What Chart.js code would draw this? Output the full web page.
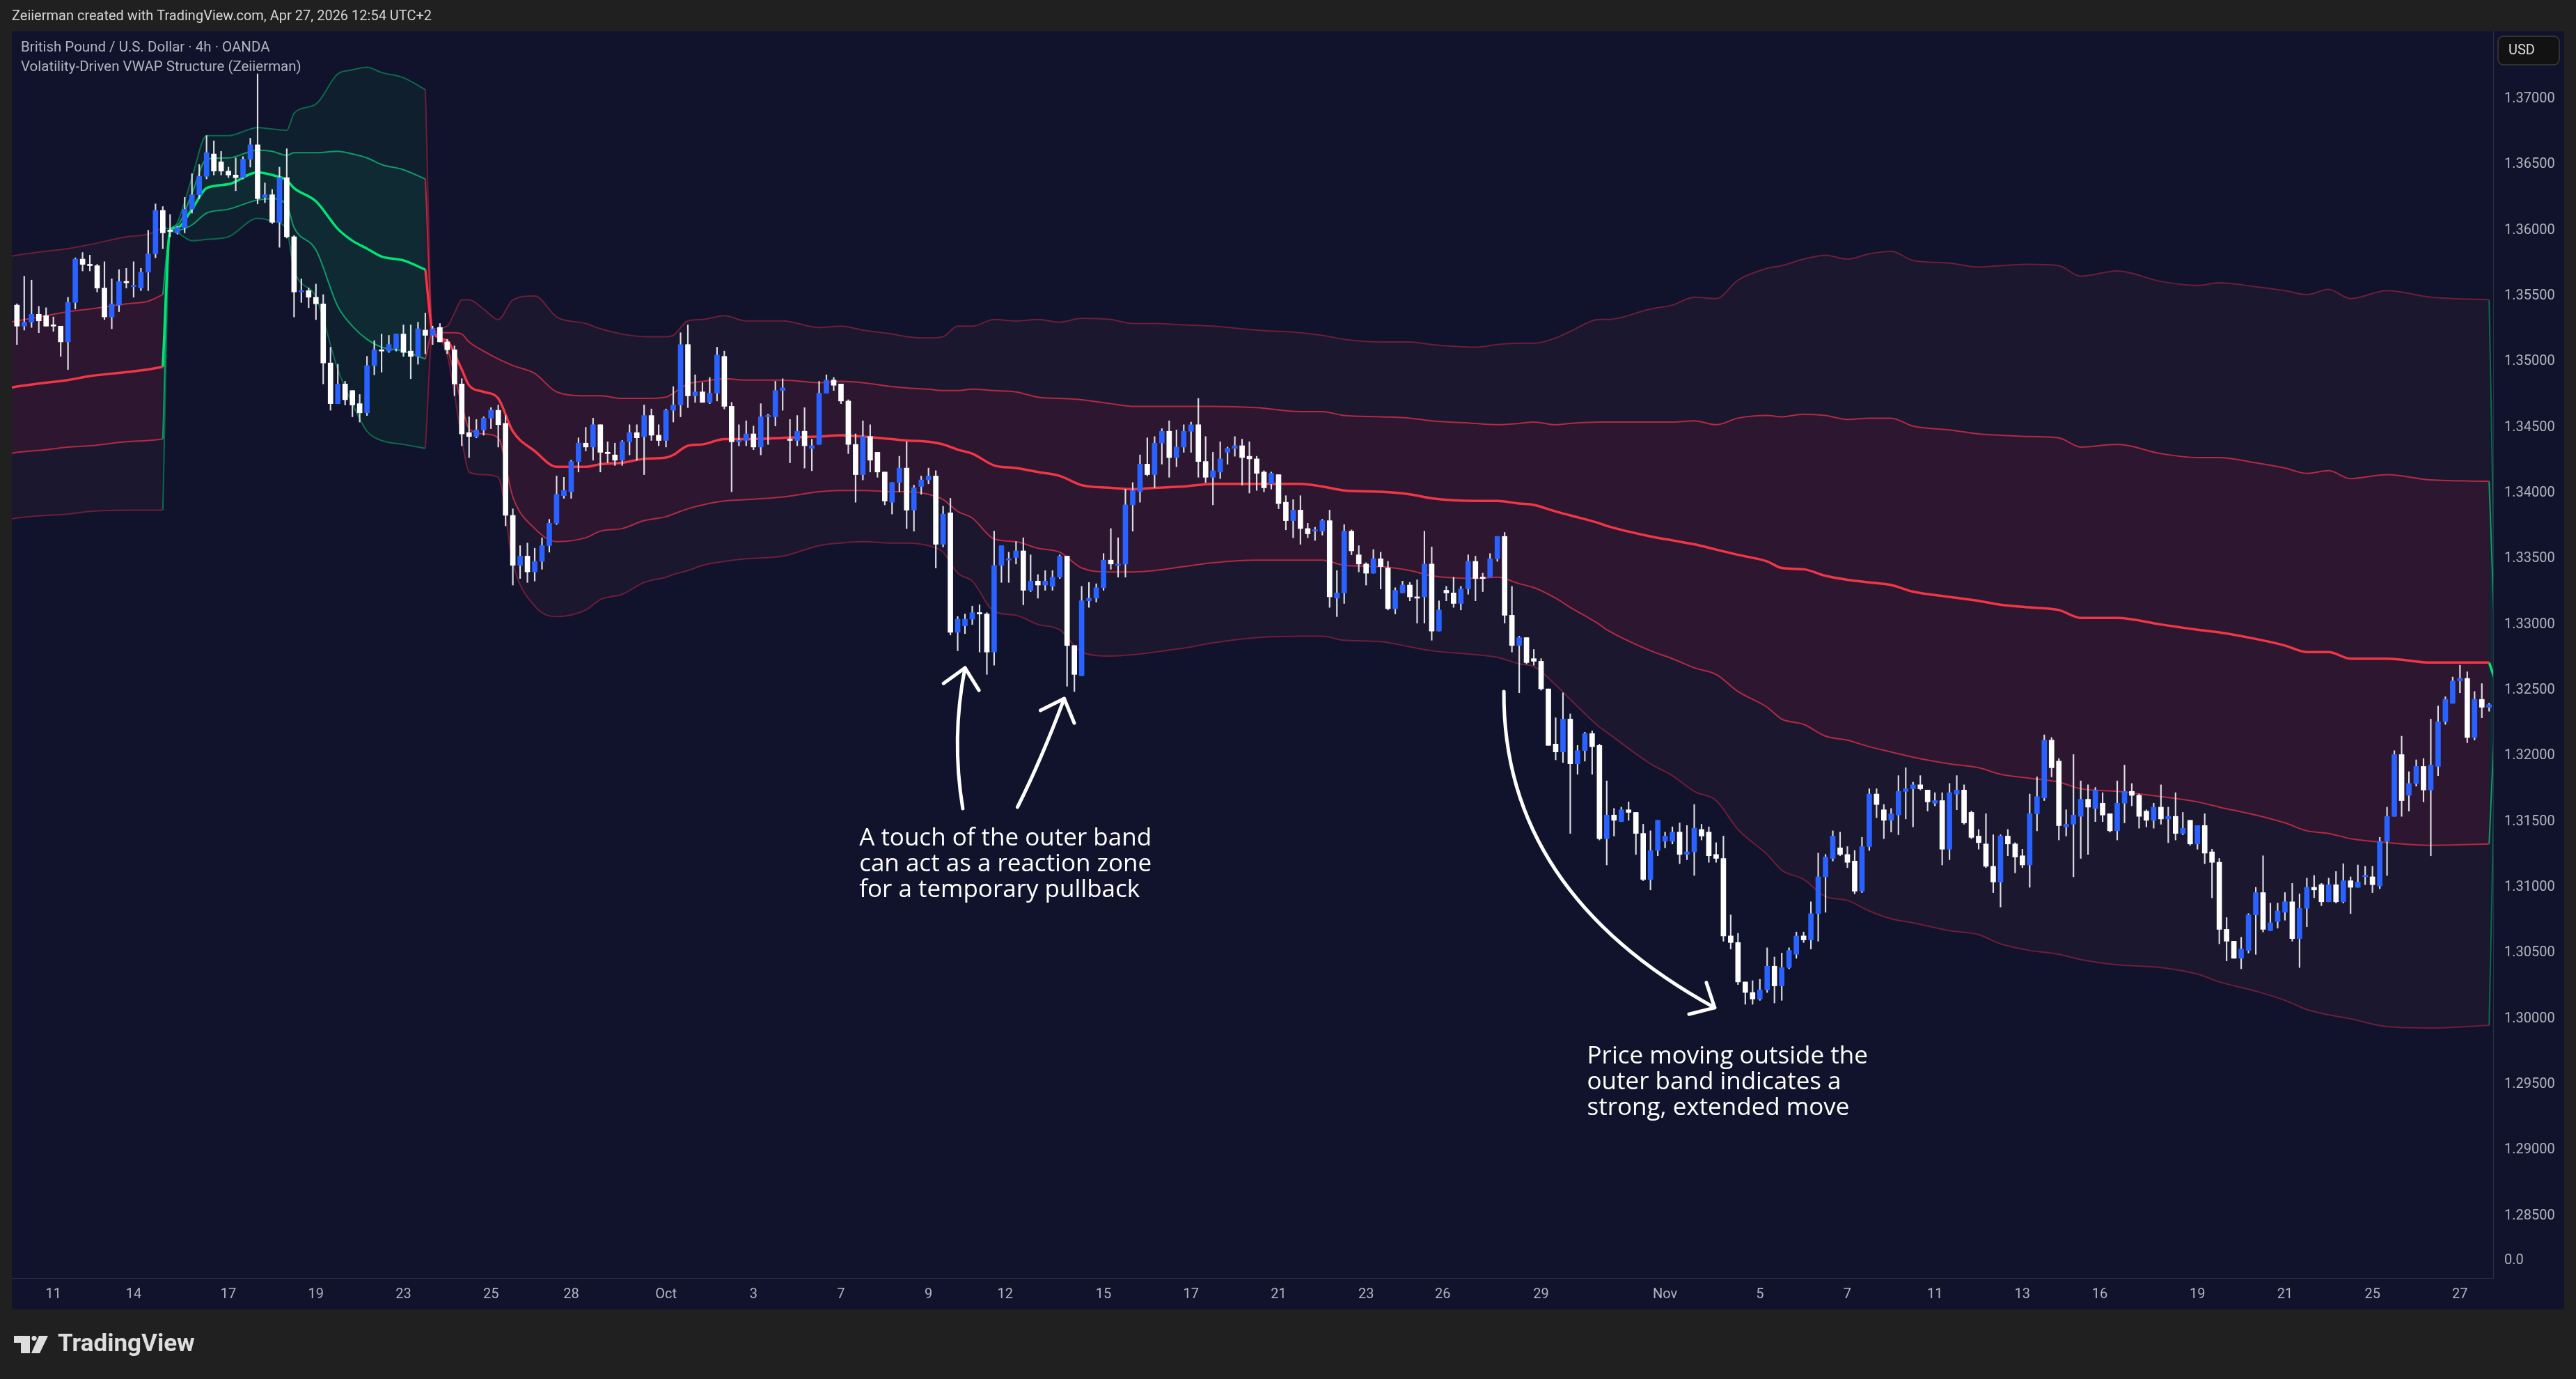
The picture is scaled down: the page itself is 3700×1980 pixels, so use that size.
<!DOCTYPE html>
<html>
<head>
<meta charset="utf-8">
<script src="https://cdn.jsdelivr.net/npm/chart.js@4.4.1/dist/chart.umd.min.js"></script>
<style>
  html, body { margin: 0; padding: 0; background: #202020; }
  canvas { display: block; }
</style>
</head>
<body>
<canvas id="chart" width="3700" height="1980"></canvas>
<script>
// GBPUSD 4h candles, prices in 1/10000 (13543 -> 1.3543)
const open = [
  13543,13527,13530,13536,13535,13528,13527,13515,13545,13578,
  13574,13573,13556,13534,13543,13561,13557,13556,13568,13582,
  13615,13600,13598,13602,13616,13627,13641,13658,13652,13645,
  13642,13640,13654,13665,13625,13627,13606,13640,13595,13553,
  13554,13549,13544,13499,13468,13483,13478,13468,13461,13497,
  13509,13508,13510,13521,13508,13504,13524,13520,13526,13515,
  13509,13483,13446,13443,13448,13457,13463,13453,13383,13345,
  13352,13340,13348,13360,13377,13398,13401,13424,13438,13435,
  13452,13431,13429,13425,13439,13446,13443,13459,13444,13440,
  13463,13467,13513,13474,13477,13469,13476,13504,13466,13439,
  13440,13445,13435,13458,13458,13478,13441,13440,13447,13434,
  13437,13476,13486,13483,13470,13437,13414,13443,13431,13416,
  13393,13408,13419,13387,13405,13410,13413,13361,13385,13294,
  13299,13304,13309,13308,13279,13345,13349,13351,13356,13326,
  13333,13330,13329,13336,13352,13284,13261,13318,13320,13328,
  13349,13345,13346,13391,13401,13422,13414,13438,13447,13427,
  13435,13447,13452,13424,13412,13416,13431,13434,13436,13428,
  13426,13416,13407,13414,13393,13379,13387,13373,13371,13371,
  13379,13320,13324,13371,13353,13346,13339,13350,13343,13312,
  13324,13330,13321,13321,13346,13295,13326,13324,13316,13327,
  13348,13336,13336,13350,13367,13307,13284,13290,13274,13272,
  13251,13209,13203,13228,13194,13204,13217,13208,13137,13155,
  13150,13159,13157,13141,13106,13128,13135,13135,13142,13125,
  13127,13144,13142,13125,13122,13063,13058,13028,13020,13015,
  13022,13040,13025,13039,13049,13063,13060,13080,13108,13122,
  13130,13125,13120,13097,13131,13171,13159,13151,13155,13173,
  13175,13178,13174,13164,13166,13129,13171,13174,13157,13139,
  13133,13116,13104,13139,13133,13124,13117,13156,13168,13212,
  13196,13146,13148,13154,13167,13160,13164,13156,13143,13164,
  13173,13170,13158,13151,13161,13152,13154,13141,13151,13133,
  13147,13127,13119,13068,13059,13046,13052,13079,13096,13067,
  13074,13081,13089,13061,13084,13100,13102,13089,13102,13089,
  13105,13100,13108,13108,13101,13135,13154,13201,13170,13179,
  13192,13174,13192,13226,13240,13257,13259,13214,13243,13237
];
const high = [
  13544,13565,13562,13542,13541,13534,13527,13549,13579,13583,
  13581,13574,13576,13563,13570,13571,13576,13571,13600,13620,
  13618,13612,13603,13625,13643,13650,13672,13668,13660,13648,
  13655,13656,13670,13719,13636,13631,13648,13662,13596,13563,
  13556,13559,13551,13511,13498,13485,13478,13475,13504,13516,
  13521,13520,13521,13528,13528,13530,13537,13527,13529,13517,
  13512,13487,13458,13456,13458,13465,13467,13459,13388,13360,
  13362,13358,13366,13380,13413,13412,13425,13442,13450,13457,
  13452,13439,13438,13440,13452,13452,13467,13464,13452,13464,
  13481,13522,13528,13490,13484,13488,13511,13508,13469,13452,
  13455,13451,13468,13460,13485,13487,13456,13459,13465,13441,
  13485,13490,13488,13483,13471,13445,13455,13452,13431,13416,
  13408,13428,13439,13406,13413,13419,13417,13390,13396,13306,
  13308,13314,13315,13309,13371,13360,13355,13363,13366,13353,
  13338,13341,13341,13353,13352,13284,13329,13332,13331,13354,
  13373,13366,13403,13408,13429,13442,13443,13449,13455,13448,
  13452,13454,13472,13443,13431,13439,13435,13443,13441,13439,
  13428,13417,13416,13414,13398,13395,13398,13377,13374,13380,
  13387,13341,13376,13372,13360,13347,13357,13355,13348,13328,
  13333,13332,13334,13371,13359,13318,13329,13336,13329,13353,
  13352,13339,13354,13367,13370,13329,13291,13290,13281,13274,
  13251,13229,13248,13232,13208,13218,13219,13209,13181,13160,
  13161,13165,13157,13148,13143,13151,13142,13146,13149,13147,
  13163,13148,13146,13134,13139,13079,13065,13028,13029,13030,
  13054,13047,13050,13054,13066,13066,13089,13126,13125,13143,
  13142,13131,13128,13138,13175,13175,13163,13160,13185,13191,
  13180,13185,13174,13172,13172,13179,13185,13178,13158,13144,
  13156,13140,13140,13144,13134,13129,13171,13184,13216,13214,
  13198,13159,13201,13181,13178,13176,13172,13156,13181,13193,
  13179,13171,13159,13164,13178,13161,13172,13157,13151,13147,
  13156,13129,13122,13077,13059,13062,13080,13100,13124,13088,
  13088,13096,13103,13095,13107,13109,13103,13107,13112,13118,
  13108,13117,13116,13116,13138,13161,13204,13215,13188,13197,
  13198,13228,13238,13245,13260,13269,13264,13249,13255,13240
];
const low = [
  13513,13524,13526,13522,13527,13523,13504,13494,13540,13569,
  13569,13553,13532,13525,13538,13556,13549,13554,13554,13579,
  13586,13595,13597,13598,13613,13624,13639,13642,13642,13640,
  13630,13639,13648,13620,13621,13605,13587,13594,13534,13545,
  13541,13532,13483,13463,13468,13467,13458,13454,13459,13490,
  13492,13507,13508,13504,13487,13498,13506,13513,13515,13506,
  13474,13436,13427,13442,13444,13449,13435,13375,13330,13335,
  13332,13333,13342,13355,13376,13396,13396,13416,13432,13425,
  13416,13423,13421,13421,13429,13425,13414,13440,13436,13435,
  13454,13458,13465,13469,13469,13468,13470,13464,13401,13436,
  13436,13433,13429,13437,13451,13463,13423,13436,13419,13417,
  13437,13476,13478,13468,13430,13393,13410,13416,13412,13391,
  13384,13401,13373,13371,13399,13407,13343,13359,13292,13280,
  13293,13300,13279,13262,13269,13332,13332,13346,13315,13325,
  13320,13326,13326,13335,13253,13249,13261,13313,13317,13326,
  13342,13336,13336,13371,13393,13413,13404,13422,13412,13420,
  13431,13431,13412,13408,13391,13411,13422,13428,13406,13400,
  13402,13401,13403,13388,13372,13366,13361,13366,13364,13368,
  13313,13306,13316,13353,13340,13330,13339,13327,13311,13308,
  13324,13318,13301,13301,13288,13295,13318,13313,13311,13323,
  13318,13325,13336,13348,13301,13279,13248,13270,13269,13250,
  13208,13197,13195,13141,13186,13196,13186,13136,13117,13139,
  13150,13151,13125,13105,13098,13124,13130,13133,13118,13121,
  13109,13136,13119,13119,13059,13053,13026,13011,13011,13014,
  13020,13012,13014,13038,13046,13058,13053,13059,13081,13120,
  13124,13115,13095,13096,13128,13153,13137,13142,13140,13152,
  13146,13174,13158,13162,13117,13121,13159,13148,13137,13129,
  13115,13096,13085,13124,13111,13115,13100,13143,13166,13184,
  13136,13139,13108,13122,13125,13150,13150,13142,13136,13149,
  13162,13145,13146,13145,13148,13134,13136,13140,13132,13129,
  13118,13092,13057,13044,13046,13038,13050,13049,13066,13067,
  13069,13075,13059,13039,13070,13092,13086,13089,13088,13088,
  13080,13100,13102,13096,13099,13109,13154,13154,13158,13177,
  13165,13124,13185,13224,13240,13248,13210,13212,13229,13234
];
const close = [
  13527,13530,13536,13531,13527,13527,13515,13545,13578,13574,
  13573,13556,13534,13544,13561,13560,13557,13568,13582,13615,
  13598,13599,13602,13616,13627,13641,13659,13645,13645,13642,
  13640,13654,13665,13624,13627,13606,13640,13595,13553,13554,
  13549,13544,13499,13468,13483,13471,13467,13461,13497,13509,
  13508,13513,13521,13507,13504,13525,13520,13525,13515,13509,
  13483,13445,13443,13448,13457,13463,13452,13383,13345,13352,
  13340,13348,13360,13377,13399,13402,13424,13438,13435,13452,
  13431,13430,13425,13439,13446,13442,13459,13444,13440,13463,
  13467,13513,13474,13477,13469,13476,13505,13466,13439,13440,
  13445,13435,13458,13458,13478,13480,13440,13447,13436,13436,
  13476,13486,13482,13470,13437,13414,13443,13425,13416,13394,
  13408,13419,13387,13404,13410,13413,13361,13384,13294,13304,
  13304,13309,13308,13279,13345,13360,13350,13356,13326,13333,
  13330,13333,13336,13352,13284,13262,13318,13320,13328,13349,
  13346,13346,13391,13402,13422,13414,13438,13447,13427,13435,
  13447,13452,13424,13412,13417,13426,13434,13436,13427,13426,
  13415,13404,13415,13392,13379,13387,13373,13369,13371,13379,
  13321,13324,13371,13356,13346,13339,13350,13344,13312,13326,
  13330,13321,13320,13346,13295,13311,13324,13316,13327,13348,
  13335,13335,13350,13367,13307,13284,13290,13271,13272,13251,
  13208,13203,13228,13194,13204,13217,13207,13137,13155,13151,
  13159,13157,13141,13106,13128,13151,13139,13142,13125,13127,
  13145,13139,13124,13122,13063,13058,13028,13020,13015,13022,
  13040,13025,13039,13052,13063,13060,13080,13108,13123,13139,
  13125,13119,13097,13131,13171,13163,13151,13156,13173,13175,
  13178,13175,13165,13166,13129,13172,13174,13149,13138,13134,
  13116,13104,13139,13133,13123,13117,13156,13169,13212,13191,
  13147,13148,13155,13167,13161,13174,13155,13143,13164,13173,
  13170,13154,13151,13161,13152,13154,13141,13145,13133,13147,
  13126,13119,13068,13059,13046,13053,13079,13096,13068,13073,
  13082,13089,13061,13084,13100,13098,13089,13102,13089,13105,
  13100,13104,13108,13102,13135,13154,13201,13166,13179,13192,
  13174,13193,13226,13243,13257,13259,13214,13243,13237,13239
];

// VWAP structure, one block per anchored segment (bar index, price in 1/10000)
const s1x  = [-1, 0, 4, 7, 10, 15, 18, 20];
const s1ou = [13580,13581,13584,13586,13589,13595,13597,13602];
const s1iu = [13530,13531,13535,13538,13540,13544,13546,13551];
const s1c  = [13480,13481,13484,13486,13489,13492,13494,13496];
const s1il = [13430,13431,13433,13435,13436,13439,13440,13441];
const s1ol = [13380,13381,13383,13384,13386,13387,13387,13387];

const s2x  = [20,21,22,24,26,29,33,35,37,38,41,44,46,48,50,53,56];
const s2ou = [13602,13601,13606,13640,13672,13672,13678,13677,13676,13689,13696,13719,13722,13724,13720,13716,13707];
const s2iu = [13551,13600,13604,13628,13654,13655,13661,13660,13657,13659,13659,13660,13658,13655,13650,13646,13639];
const s2c  = [13496,13600,13602,13616,13632,13635,13644,13642,13638,13632,13622,13601,13592,13586,13580,13577,13570];
const s2il = [13441,13600,13600,13604,13613,13616,13623,13624,13619,13602,13585,13542,13527,13517,13511,13508,13502];
const s2ol = [13387,13599,13598,13592,13593,13595,13609,13607,13600,13570,13549,13494,13468,13447,13440,13437,13434];

const s3x = [
  56,57,59,60,61,62,64,66,68,71,
  74,78,80,83,86,89,90,92,94,97,
  100,105,110,113,116,120,122,125,127,129,
  131,134,137,140,143,146,150,153,156,160,
  164,170,176,179,182,187,191,194,200,203,
  206,208,211,213,217,218,224,227,230,233,
  236,240,242,245,248,251,254,257,260,265,
  269,272,276,280,283,288,294,299,302,307,
  311,314,317,320,325,331,339];
const s3ou = [
  13707,13525,13527,13537,13547,13547,13540,13532,13547,13550,
  13534,13529,13525,13521,13519,13519,13520,13531,13532,13535,
  13531,13531,13526,13527,13524,13521,13519,13518,13519,13527,
  13527,13532,13531,13532,13530,13533,13532,13529,13529,13528,
  13527,13524,13522,13520,13517,13515,13515,13513,13511,13513,
  13514,13514,13518,13523,13532,13532,13540,13543,13549,13548,
  13562,13571,13573,13578,13581,13578,13582,13584,13577,13575,
  13572,13573,13574,13573,13565,13569,13561,13558,13560,13557,
  13554,13551,13555,13548,13554,13549,13547];
const s3iu = [
  13639,13524,13522,13522,13521,13515,13508,13502,13497,13491,
  13477,13474,13474,13472,13472,13473,13476,13483,13485,13487,
  13486,13486,13484,13485,13484,13481,13480,13479,13478,13478,
  13479,13478,13477,13473,13472,13471,13468,13466,13466,13466,
  13466,13465,13462,13462,13459,13458,13457,13455,13453,13452,
  13453,13454,13452,13453,13454,13454,13454,13454,13455,13452,
  13457,13459,13458,13460,13459,13456,13457,13457,13451,13448,
  13445,13444,13443,13442,13435,13437,13430,13427,13427,13423,
  13419,13415,13417,13411,13414,13410,13409];
const s3c = [
  13570,13523,13516,13506,13494,13482,13477,13472,13447,13432,
  13420,13420,13422,13423,13426,13427,13429,13436,13437,13441,
  13441,13442,13443,13444,13443,13441,13440,13439,13437,13433,
  13430,13421,13419,13416,13413,13406,13404,13403,13404,13405,
  13407,13407,13407,13405,13402,13401,13399,13396,13394,13394,
  13392,13391,13386,13383,13377,13375,13367,13364,13361,13357,
  13353,13348,13343,13342,13337,13334,13332,13330,13325,13321,
  13318,13315,13313,13311,13305,13305,13300,13296,13294,13289,
  13284,13279,13279,13274,13274,13271,13271];
const s3il = [
  13502,13522,13510,13490,13467,13449,13445,13442,13397,13373,
  13363,13366,13371,13373,13379,13382,13384,13388,13391,13394,
  13395,13397,13401,13402,13402,13401,13401,13399,13395,13386,
  13381,13365,13363,13358,13355,13343,13340,13340,13341,13344,
  13347,13349,13349,13349,13345,13344,13341,13337,13335,13336,
  13331,13328,13320,13313,13300,13296,13280,13274,13267,13262,
  13249,13237,13228,13224,13215,13212,13207,13203,13199,13194,
  13191,13186,13183,13180,13175,13173,13169,13165,13161,13155,
  13149,13143,13141,13137,13134,13132,13133];
const s3ol = [
  13434,13521,13505,13475,13441,13416,13414,13412,13347,13314,
  13306,13311,13319,13323,13332,13336,13338,13341,13345,13348,
  13350,13352,13360,13362,13363,13362,13362,13360,13355,13339,
  13333,13310,13307,13300,13296,13279,13276,13277,13279,13282,
  13286,13290,13291,13291,13288,13287,13283,13280,13277,13275,
  13270,13268,13254,13243,13222,13218,13194,13185,13173,13166,
  13144,13125,13113,13106,13093,13090,13082,13076,13073,13067,
  13064,13057,13052,13049,13045,13041,13039,13034,13028,13021,
  13014,13007,13003,13000,12994,12993,12995];

const s4x  = [339, 340];
const s4ou = [13547, 13255];
const s4iu = [13409, 13255];
const s4c  = [13271, 13255];
const s4il = [13133, 13255];
const s4ol = [12995, 13255];

// axis ticks
const dayTicks  = [5,16,29,41,53,65,76,89,101,113,125,135.5,149,161,173,185,195.5,209,226,239,251,263,275,285.6,299,311,323,335];
const dayLabels = ['11','14','17','19','23','25','28','Oct','3','7','9','12','15','17','21','23','26','29','Nov','5','7','11','13','16','19','21','25','27'];
const priceTicks = [1.285,1.29,1.295,1.30,1.305,1.31,1.315,1.32,1.325,1.33,1.335,1.34,1.345,1.35,1.355,1.36,1.365,1.37];

// ---- styling ----
const FRAME = '#202020', PANEL = '#10132b', SEP = '#2b2e45', TXT = '#b2b5be';
const UP = '#2962ff', DOWN = '#ffffff', WICK = '#dcdde3';
const RED = {c:'#f23645', inner:'#b32a42', outer:'#6d1e38', fillOuter:'#1b172f', fillInner:'#2d1730'};
const GREEN = {c:'#00e676', inner:'#109a66', outer:'#0b6a4b', fillOuter:'#101f2e', fillInner:'#0f2a33'};

const wickData = [], bodyData = [];
for (let i = 0; i < close.length; i++) {
  wickData.push({x: i, y: [low[i] / 1e4, high[i] / 1e4]});
  bodyData.push({x: i, y: [open[i] / 1e4, close[i] / 1e4]});
}
const isUp = i => close[i] >= open[i];

const datasets = [
  {type:'bar', data: bodyData, grouped:false, barThickness:7, minBarLength:2, borderWidth:0,
   backgroundColor: ctx => isUp(ctx.dataIndex) ? UP : DOWN, order:0},
  {type:'bar', data: wickData, grouped:false, barThickness:1.5, borderWidth:0, backgroundColor: WICK, order:1}
];

function pts(xs, vs){ return xs.map((x, k) => ({x: x, y: vs[k] / 1e4})); }
function line(xs, vs, color, width, order, fill){
  return {type:'line', data: pts(xs, vs), borderColor: color, borderWidth: width, pointRadius: 0,
          cubicInterpolationMode:'monotone', order: order, fill: fill === undefined ? false : fill.target,
          backgroundColor: fill ? fill.color : 'transparent'};
}
function addSegment(xs, ou, iu, c, il, ol, pal){
  const olIdx = datasets.length;
  datasets.push(line(xs, ol, pal.outer, 2, 4));
  const ilIdx = datasets.length;
  datasets.push(line(xs, il, pal.inner, 2, 3));
  datasets.push(line(xs, c, pal.c, 3.5, 2));
  datasets.push(line(xs, iu, pal.inner, 2, 3, {target: ilIdx, color: pal.fillInner}));
  datasets.push(line(xs, ou, pal.outer, 2, 4, {target: olIdx, color: pal.fillOuter}));
}
addSegment(s1x, s1ou, s1iu, s1c, s1il, s1ol, RED);
addSegment(s2x, s2ou, s2iu, s2c, s2il, s2ol, GREEN);
addSegment(s3x, s3ou, s3iu, s3c, s3il, s3ol, RED);
addSegment(s4x, s4ou, s4iu, s4c, s4il, s4ol, GREEN);

// annotation placement (bar index, price)
const notes = [
  {i:115.5, p:1.31371, lines:['A touch of the outer band','can act as a reaction zone','for a temporary pullback']},
  {i:215.3, p:1.29713, lines:['Price moving outside the','outer band indicates a','strong, extended move']}
];
const arrows = [
  {from:[129.7,1.31599], ctrl:[128.1,1.32134], to:[130.0,1.32670]},
  {from:[137.2,1.31610], ctrl:[140.5,1.31975], to:[143.6,1.32436]},
  {from:[203.9,1.32489], ctrl:[203.7,1.30969], to:[232.8,1.30084]}
];

const overlay = {
  id: 'overlay',
  beforeDraw(chart){
    const ctx = chart.ctx;
    ctx.save();
    ctx.fillStyle = FRAME;
    ctx.fillRect(0, 0, chart.width, chart.height);
    ctx.fillStyle = PANEL;
    ctx.fillRect(17, 45, 3666, 1835);
    ctx.restore();
  },
  afterDraw(chart){
    const ctx = chart.ctx;
    const X = v => chart.scales.x.getPixelForValue(v);
    const Y = v => chart.scales.y.getPixelForValue(v);
    ctx.save();
    ctx.textBaseline = 'middle';
    ctx.textAlign = 'left';

    // top bar + titles
    ctx.fillStyle = '#d6d6d6';
    ctx.font = '20px Roboto';
    ctx.fillText('Zeiierman created with TradingView.com, Apr 27, 2026 12:54 UTC+2', 17, 24);
    ctx.fillStyle = TXT;
    ctx.font = '20.5px Roboto';
    ctx.fillText('British Pound / U.S. Dollar · 4h · OANDA', 30, 69);
    ctx.fillText('Volatility-Driven VWAP Structure (Zeiierman)', 30, 97);

    // currency badge + pane label
    ctx.beginPath();
    ctx.roundRect(3588, 52, 88, 41, 8);
    ctx.fillStyle = '#121212';
    ctx.fill();
    ctx.strokeStyle = '#3c3c3c';
    ctx.lineWidth = 1.5;
    ctx.stroke();
    ctx.fillStyle = '#dcdcdc';
    ctx.font = '20px Roboto';
    ctx.fillText('USD', 3603, 73);
    ctx.fillStyle = TXT;
    ctx.fillText('0.0', 3597, 1810);

    // annotations
    ctx.fillStyle = '#ffffff';
    ctx.font = '35px "Open Sans"';
    notes.forEach(n => {
      n.lines.forEach((t, k) => ctx.fillText(t, X(n.i), Y(n.p) + k * 37));
    });
    ctx.strokeStyle = '#ffffff';
    ctx.lineWidth = 5;
    ctx.lineCap = 'round';
    ctx.lineJoin = 'round';
    arrows.forEach(a => {
      const p0 = [X(a.from[0]), Y(a.from[1])], c = [X(a.ctrl[0]), Y(a.ctrl[1])], p1 = [X(a.to[0]), Y(a.to[1])];
      ctx.beginPath();
      ctx.moveTo(p0[0], p0[1]);
      ctx.quadraticCurveTo(c[0], c[1], p1[0], p1[1]);
      ctx.stroke();
      const ang = Math.atan2(p1[1] - c[1], p1[0] - c[0]);
      ctx.beginPath();
      ctx.moveTo(p1[0] + 38 * Math.cos(ang + Math.PI - 0.75), p1[1] + 38 * Math.sin(ang + Math.PI - 0.75));
      ctx.lineTo(p1[0], p1[1]);
      ctx.lineTo(p1[0] + 38 * Math.cos(ang + Math.PI + 0.75), p1[1] + 38 * Math.sin(ang + Math.PI + 0.75));
      ctx.stroke();
    });

    // logo
    ctx.fillStyle = '#dedede';
    ctx.fillRect(20, 1918, 23, 10);
    ctx.fillRect(30, 1918, 13, 25);
    ctx.beginPath();
    ctx.arc(49, 1921.5, 3.6, 0, Math.PI * 2);
    ctx.fill();
    ctx.beginPath();
    ctx.moveTo(56, 1918); ctx.lineTo(69, 1918); ctx.lineTo(57, 1943); ctx.lineTo(45, 1943);
    ctx.closePath();
    ctx.fill();
    ctx.font = 'bold 35px Roboto';
    ctx.fillText('TradingView', 83, 1931);
    ctx.restore();
  }
};

new Chart(document.getElementById('chart'), {
  type: 'line',
  data: { datasets: datasets },
  plugins: [overlay],
  options: {
    responsive: false,
    animation: false,
    events: [],
    devicePixelRatio: 1,
    layout: { padding: {left: 17, top: 45, right: 17, bottom: 100} },
    plugins: {
      legend: {display: false},
      tooltip: {enabled: false},
      filler: {drawTime: 'beforeDatasetsDraw'}
    },
    scales: {
      x: {
        type: 'linear', min: -0.7, max: 339.55, offset: false,
        grid: {display: false, drawTicks: false},
        border: {display: true, color: SEP},
        ticks: {autoSkip: false, maxRotation: 0, padding: 12, color: TXT,
                font: {family: 'Roboto', size: 20},
                callback: (v, k) => dayLabels[k]},
        afterBuildTicks: ax => { ax.ticks = dayTicks.map(v => ({value: v})); },
        afterFit: ax => { ax.height = 45; }
      },
      y: {
        type: 'linear', position: 'right', min: 1.280272, max: 1.375132,
        grid: {display: false, drawTicks: false},
        border: {display: true, color: SEP},
        ticks: {padding: 16, color: TXT, font: {family: 'Roboto', size: 20},
                callback: v => v.toFixed(5)},
        afterBuildTicks: ax => { ax.ticks = priceTicks.map(v => ({value: v})); },
        afterFit: ax => { ax.width = 102; }
      }
    }
  }
});
</script>
</body>
</html>
